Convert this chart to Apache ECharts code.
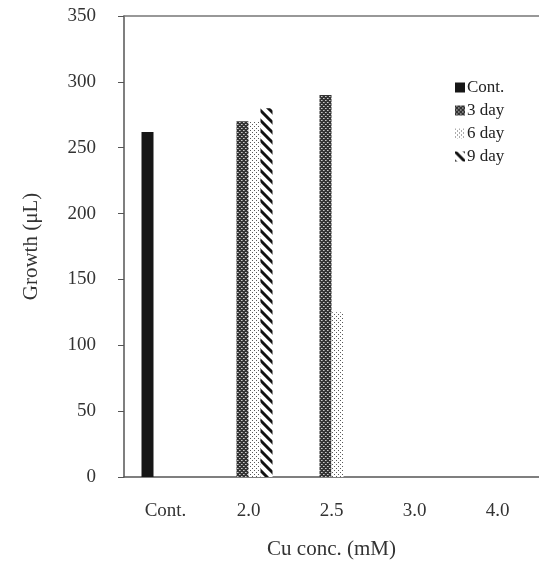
<!DOCTYPE html>
<html>
<head>
<meta charset="utf-8">
<script src="https://cdn.jsdelivr.net/npm/echarts@6/dist/echarts.min.js"></script>
<style>html,body{margin:0;padding:0;background:#fff;}#c{width:539px;height:569px;}</style>
</head>
<body>
<div id="c"></div>
<script>
const categories = ['Cont.', '2.0', '2.5', '3.0', '4.0'];
const seriesNames = ['Cont.', '3 day', '6 day', '9 day'];
const contValues = [262, 0, 0, 0, 0];
const day3Values = [0, 270, 290, 0, 0];
const day6Values = [0, 270, 125, 0, 0];
const day9Values = [0, 280, 0, 0, 0];
const yTicks = [0, 50, 100, 150, 200, 250, 300, 350];

function makePattern(kind) {
  const c = document.createElement('canvas');
  const ctx = c.getContext('2d');
  if (kind === 'cross') {
    c.width = 4; c.height = 4;
    ctx.fillStyle = '#333'; ctx.fillRect(0, 0, 4, 4);
    ctx.fillStyle = '#c8c8c8';
    ctx.fillRect(1, 0, 1, 1); ctx.fillRect(3, 2, 1, 1);
    ctx.fillStyle = '#8a8a8a';
    ctx.fillRect(0, 2, 1, 1); ctx.fillRect(2, 0, 1, 1);
  } else if (kind === 'dots') {
    c.width = 4; c.height = 4;
    ctx.fillStyle = '#ffffff'; ctx.fillRect(0, 0, 4, 4);
    ctx.fillStyle = '#5a5a5a';
    ctx.fillRect(0, 0, 1, 1); ctx.fillRect(2, 2, 1, 1);
  } else {
    c.width = 10; c.height = 10;
    ctx.fillStyle = '#ffffff'; ctx.fillRect(0, 0, 10, 10);
    ctx.strokeStyle = '#111'; ctx.lineWidth = 3;
    ctx.beginPath();
    ctx.moveTo(-2, -2); ctx.lineTo(12, 12);
    ctx.moveTo(-12, -2); ctx.lineTo(2, 12);
    ctx.moveTo(8, -2); ctx.lineTo(22, 12);
    ctx.stroke();
  }
  return { image: c, repeat: 'repeat' };
}

const fills = ['#161616', makePattern('cross'), makePattern('dots'), makePattern('stripes')];
const values = [contValues, day3Values, day6Values, day9Values];
const serif = 'Liberation Serif, Times New Roman, serif';

const chart = echarts.init(document.getElementById('c'));
chart.setOption({
  animation: false,
  backgroundColor: '#fff',
  grid: { left: 124, top: 16, width: 417, bottom: 92, containLabel: false },
  legend: {
    orient: 'vertical', left: 450, top: 74,
    itemWidth: 10, itemHeight: 10, itemGap: 6,
    icon: 'rect',
    data: seriesNames,
    textStyle: { fontFamily: serif, fontSize: 17, color: '#222', padding: [0, 0, 0, -3] }
  },
  xAxis: [{
    type: 'category', data: categories,
    name: 'Cu conc. (mM)', nameLocation: 'middle', nameGap: 62,
    nameTextStyle: { fontFamily: serif, fontSize: 21, color: '#333' },
    axisLine: { lineStyle: { color: '#555', width: 1.5 } },
    axisTick: { show: false },
    axisLabel: { fontFamily: serif, fontSize: 19, color: '#333', margin: 25 }
  }, {
    type: 'category', data: categories, position: 'top',
    axisLine: { show: true, lineStyle: { color: '#777', width: 1.5 } },
    axisTick: { show: false }, axisLabel: { show: false }
  }],
  yAxis: {
    type: 'value', min: 0, max: 350, interval: 50,
    name: 'Growth (μL)', nameLocation: 'middle', nameGap: 82,
    nameTextStyle: { fontFamily: serif, fontSize: 21, color: '#333' },
    axisLine: { show: true, lineStyle: { color: '#555', width: 1.5 } },
    axisTick: { show: true, length: 6, lineStyle: { color: '#555' } },
    axisLabel: { fontFamily: serif, fontSize: 19, color: '#333', margin: 28,
      formatter: v => yTicks.includes(v) ? String(v) : '' },
    splitLine: { show: false }
  },
  series: seriesNames.map((n, i) => ({
    name: n, type: 'bar', data: values[i],
    barWidth: 12, barGap: '0%',
    itemStyle: { color: fills[i] }
  }))
});
</script>
</body>
</html>
